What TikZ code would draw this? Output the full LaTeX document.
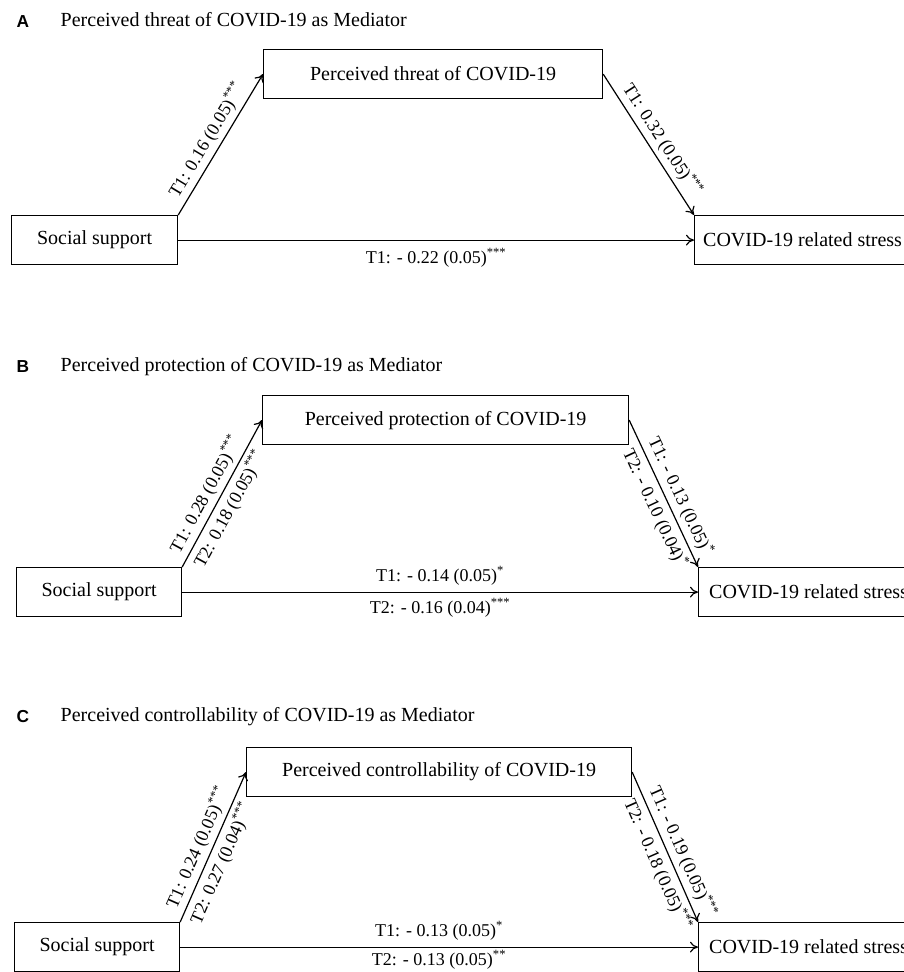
\documentclass[tikz,border=0pt]{standalone}
\usepackage{fontspec}
\setmainfont{Liberation Serif}
\newfontfamily\panelfont{Liberation Sans}
\usetikzlibrary{arrows.meta}

\begin{document}
\begin{tikzpicture}[x=0.75pt, y=-0.75pt,
  var/.style={draw, line width=0.9pt, minimum height=36.75pt, inner sep=0pt, anchor=north west, font=\fontsize{15}{18}\selectfont},
  effect/.style={line width=0.9pt, -{To[length=6pt,width=8pt]}},
  coef/.style={font=\fontsize{13.5}{16}\selectfont, inner sep=3pt},
  heading/.style={anchor=base west, font=\fontsize{15}{18}\selectfont},
  panel/.style={anchor=base west, font=\panelfont\bfseries\fontsize{13}{15}\selectfont}]
\clip (0,0) rectangle (904,972);

% A
\node[panel] (labA) at (12,27) {A};
\node[heading] (titA) at (56,26) {Perceived threat of COVID-19 as Mediator};
\node[var, minimum width=254.25pt] (medA) at (263,49) {Perceived threat of COVID-19};
\node[var, minimum width=124.5pt] (socA) at (11,215) {Social support};
\node[var, minimum width=162pt] (strA) at (694,215) {COVID-19 related stress};

\draw[effect] (socA.north east) -- (medA.west) node[coef, pos=0.48, sloped, above] {T1: 0.16 (0.05)\textsuperscript{***}};
\draw[effect] (medA.east) -- (strA.north west) node[coef, pos=0.52, sloped, above] {T1: 0.32 (0.05)\textsuperscript{***}};
\draw[effect] (socA.east) -- (strA.west) node[coef, midway, below=3pt] {T1: - 0.22 (0.05)\textsuperscript{***}};

% B
\node[panel] (labB) at (12,372) {B};
\node[heading] (titB) at (56,371) {Perceived protection of COVID-19 as Mediator};
\node[var, minimum width=274.5pt] (medB) at (262,395) {Perceived protection of COVID-19};
\node[var, minimum width=123.75pt] (socB) at (16,567) {Social support};
\node[var, minimum width=165pt] (strB) at (698,567) {COVID-19 related stress};

\draw[effect] (socB.north east) -- (medB.west)
  node[coef, pos=0.45, sloped, above] {T1: 0.28 (0.05)\textsuperscript{***}}
  node[coef, pos=0.44, sloped, below] {T2: 0.18 (0.05)\textsuperscript{***}};
\draw[effect] (medB.east) -- (strB.north west)
  node[coef, pos=0.56, sloped, above] {T1: - 0.13 (0.05)\textsuperscript{*}}
  node[coef, pos=0.56, sloped, below] {T2: - 0.10 (0.04)\textsuperscript{*}};
\draw[effect] (socB.east) -- (strB.west)
  node[coef, midway, above=2pt] {T1: - 0.14 (0.05)\textsuperscript{*}}
  node[coef, midway, below=1.5pt] {T2: - 0.16 (0.04)\textsuperscript{***}};

% C
\node[panel] (labC) at (12,722) {C};
\node[heading] (titC) at (56,721) {Perceived controllability of COVID-19 as Mediator};
\node[var, minimum width=288.75pt] (medC) at (246,747) {Perceived controllability of COVID-19};
\node[var, minimum width=123.75pt] (socC) at (14,922) {Social support};
\node[var, minimum width=165pt] (strC) at (698,922) {COVID-19 related stress};

\draw[effect] (socC.north east) -- (medC.west)
  node[coef, pos=0.46, sloped, above] {T1: 0.24 (0.05)\textsuperscript{***}}
  node[coef, pos=0.43, sloped, below] {T2: 0.27 (0.04)\textsuperscript{***}};
\draw[effect] (medC.east) -- (strC.north west)
  node[coef, pos=0.57, sloped, above] {T1: - 0.19 (0.05)\textsuperscript{***}}
  node[coef, pos=0.58, sloped, below] {T2: - 0.18 (0.05)\textsuperscript{***}};
\draw[effect] (socC.east) -- (strC.west)
  node[coef, midway, above=2pt] {T1: - 0.13 (0.05)\textsuperscript{*}}
  node[coef, midway, below=0pt, inner sep=2pt] {T2: - 0.13 (0.05)\textsuperscript{**}};
\end{tikzpicture}
\end{document}
